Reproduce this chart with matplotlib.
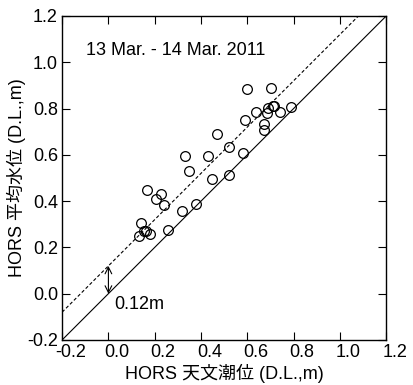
import numpy as np
import matplotlib
matplotlib.use("Agg")
import matplotlib.pyplot as plt
from matplotlib.transforms import ScaledTranslation

plt.rcParams['font.family'] = ['Liberation Sans', 'Noto Sans CJK JP', 'DejaVu Sans']

# astronomical tide (x) vs mean water level (y), HORS
tide = [0.130, 0.139, 0.152, 0.162, 0.181, 0.168, 0.206, 0.229, 0.238, 0.259,
        0.319, 0.380, 0.329, 0.349, 0.429, 0.449, 0.470, 0.519, 0.520, 0.581,
        0.590, 0.600, 0.638, 0.670, 0.670, 0.684, 0.688, 0.701, 0.710, 0.716,
        0.742, 0.790]
level = [0.251, 0.307, 0.271, 0.271, 0.259, 0.448, 0.409, 0.429, 0.381, 0.277,
         0.359, 0.386, 0.596, 0.529, 0.596, 0.497, 0.690, 0.635, 0.512, 0.607,
         0.751, 0.886, 0.784, 0.733, 0.709, 0.781, 0.801, 0.888, 0.809, 0.812,
         0.784, 0.806]
offset = 0.12
ticks = [-0.2, 0.0, 0.2, 0.4, 0.6, 0.8, 1.0, 1.2]
lims = [-0.2, 1.2]

fig = plt.figure(figsize=(4.14, 3.85), dpi=100)
ax = fig.add_axes([0.150, 0.117, 0.783, 0.8416])

# 1:1 line and 1:1 + offset
ax.plot(lims, lims, color='black', lw=0.8)
ax.plot(lims, [lims[0] + offset, lims[1] + offset], color='black', lw=0.8,
        linestyle=(0, (3, 2)))

ax.plot(tide, level, linestyle='none', marker='o', markersize=7,
        markerfacecolor='none', markeredgecolor='black', markeredgewidth=0.9)

ax.annotate('', xy=(0.0, offset), xytext=(0.0, 0.0),
            arrowprops=dict(arrowstyle='<->', lw=0.8, color='black',
                            shrinkA=0, shrinkB=0, mutation_scale=12))
ax.text(0.025, -0.048, '0.12m', fontsize=13, va='center', ha='left')
ax.text(-0.097, 1.049, '13 Mar. - 14 Mar. 2011', fontsize=13, va='center', ha='left')

ax.set_xlim(lims)
ax.set_ylim(lims)
ax.set_xticks(ticks)
ax.set_yticks(ticks)
ax.set_xticklabels(['%.1f' % t for t in ticks])
ax.set_yticklabels(['%.1f' % t for t in ticks])
ax.tick_params(direction='in', length=6, width=0.8, top=True, right=True,
               labelsize=13)
ax.tick_params(axis='x', pad=3)
ax.tick_params(axis='y', pad=3)
shift = ScaledTranslation(6 / 72, 0, fig.dpi_scale_trans)
for lab in ax.get_xticklabels():
    lab.set_transform(lab.get_transform() + shift)

for s in ax.spines.values():
    s.set_linewidth(1.0)

ax.set_xlabel('HORS 天文潮位 (D.L.,m)', fontsize=13, labelpad=2)
ax.set_ylabel('HORS 平均水位 (D.L.,m)', fontsize=13, labelpad=1)

fig.savefig('out.png', dpi=100)
